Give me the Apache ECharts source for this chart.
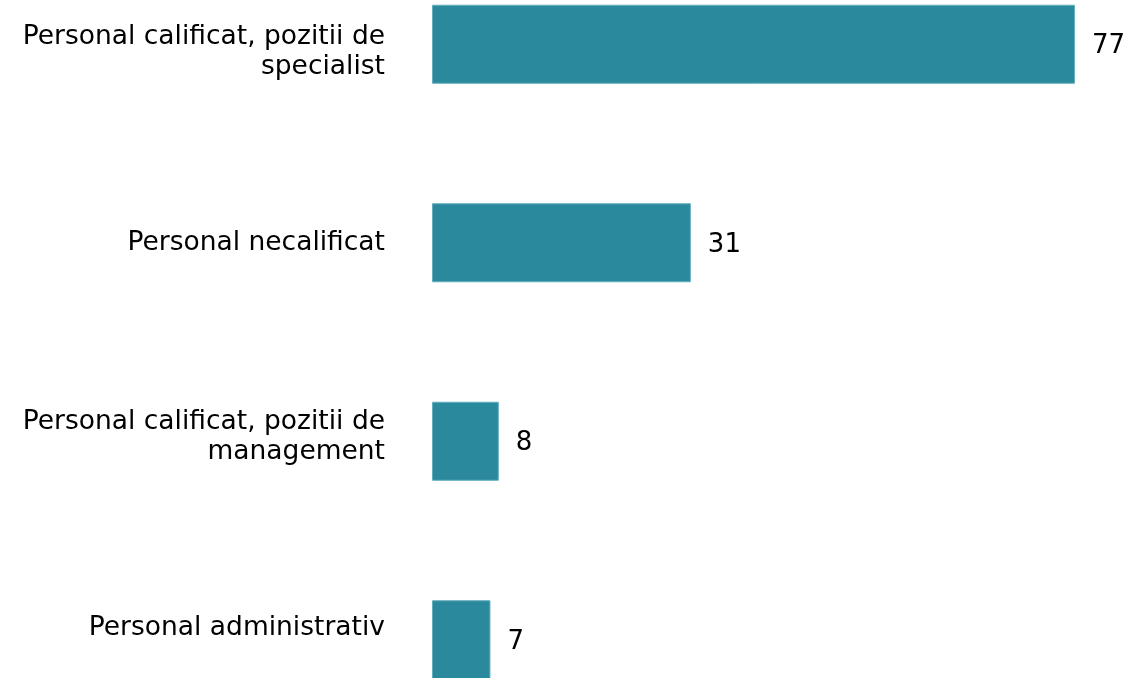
<!DOCTYPE html>
<html>
<head>
<meta charset="utf-8">
<script src="https://cdn.jsdelivr.net/npm/echarts@6/dist/echarts.min.js"></script>
<style>
  html, body { margin: 0; padding: 0; background: #fff; }
  #chart { width: 1148px; height: 678px; }
</style>
</head>
<body>
<div id="chart"></div>
<script>
var categories = [
	'Personal calificat, pozitii de\nspecialist',
	'Personal necalificat',
	'Personal calificat, pozitii de\nmanagement',
	'Personal administrativ'
];
var values = [77, 31, 8, 7];
// labels were nudged in the original so they stay inside the picture
// (> 0 pushes the label down, < 0 pulls it up, in px of empty line added)
var labelGap = [16, 0, -9, -24];

var chart = echarts.init(document.getElementById('chart'));

var rich = { t: { fontSize: 26.5, lineHeight: 30, color: '#000', fontFamily: 'DejaVu Sans' } };
labelGap.forEach(function (g, i) {
	if (g !== 0) rich['g' + i] = { fontSize: 1, lineHeight: Math.abs(g) };
});

var option = {
	animation: false,
	grid: {
		left: 432,
		width: 668,
		top: -55,
		height: 794,
		outerBoundsMode: 'none',
		containLabel: false
	},
	xAxis: {
		type: 'value',
		min: 0,
		max: 80,
		show: false
	},
	yAxis: {
		type: 'category',
		inverse: true,
		data: categories,
		axisLine: { show: false },
		axisTick: { show: false },
		axisLabel: {
			margin: 47,
			align: 'right',
			rich: rich,
			formatter: function (value, idx) {
				var lines = value.split('\n').map(function (l) { return '{t|' + l + '}'; });
				var g = labelGap[idx];
				if (g > 0) lines.unshift('{g' + idx + '| }');
				if (g < 0) lines.push('{g' + idx + '| }');
				return lines.join('\n');
			}
		}
	},
	series: [{
		type: 'bar',
		data: values,
		barWidth: 79,
		itemStyle: {
			color: '#2a899c',
			borderColor: '#62aebd',
			borderWidth: 1
		},
		label: {
			show: true,
			position: 'right',
			distance: 17,
			offset: [0, 2],
			color: '#000',
			fontFamily: 'DejaVu Sans',
			fontSize: 26
		}
	}]
};

chart.setOption(option);
</script>
</body>
</html>
